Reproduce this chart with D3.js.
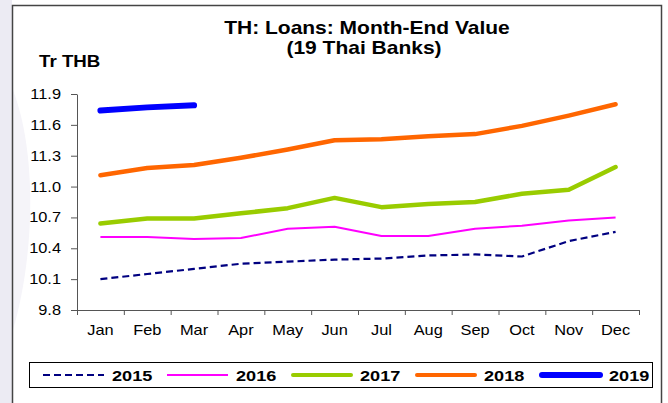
<!DOCTYPE html>
<html>
<head>
<meta charset="utf-8">
<script src="https://cdn.jsdelivr.net/npm/d3@7"></script>
<style>
  body { margin: 0; background: #fff; }
  text { font-family: Arial, "Liberation Sans", sans-serif; fill: #000; }
</style>
</head>
<body>
<div class="chart"></div>
<script>
const months = ["Jan", "Feb", "Mar", "Apr", "May", "Jun", "Jul", "Aug", "Sep", "Oct", "Nov", "Dec"];
const yTicks = [9.8, 10.1, 10.4, 10.7, 11.0, 11.3, 11.6, 11.9];

const s2015 = [10.10, 10.15, 10.20, 10.25, 10.27, 10.29, 10.30, 10.33, 10.34, 10.32, 10.47, 10.56];
const s2016 = [10.51, 10.51, 10.49, 10.50, 10.59, 10.61, 10.52, 10.52, 10.59, 10.62, 10.67, 10.70];
const s2017 = [10.64, 10.69, 10.69, 10.74, 10.79, 10.89, 10.80, 10.83, 10.85, 10.93, 10.97, 11.19];
const s2018 = [11.11, 11.18, 11.21, 11.28, 11.36, 11.45, 11.46, 11.49, 11.51, 11.59, 11.69, 11.80];
const s2019 = [11.74, 11.77, 11.79];

const series = [
  { name: "2015", values: s2015, color: "#000080", width: 2.2, dash: "7,4", cap: "butt" },
  { name: "2016", values: s2016, color: "#ff00ff", width: 2, dash: null, cap: "butt" },
  { name: "2017", values: s2017, color: "#99cc00", width: 4.5, dash: null, cap: "round" },
  { name: "2018", values: s2018, color: "#ff6600", width: 4.5, dash: null, cap: "round" },
  { name: "2019", values: s2019, color: "#0000ff", width: 6, dash: null, cap: "round" }
];

const W = 668, H = 403;
const sx = 1.17; // the original is stretched sideways a little
const plot = { left: 77, right: 639, top: 94, bottom: 310 };

const svg = d3.select(".chart").append("svg")
    .attr("width", W)
    .attr("height", H);

// left strip + faint swoosh
svg.append("rect").attr("x", 0).attr("y", 0).attr("width", 12).attr("height", H).attr("fill", "#ecebf3");
svg.append("path")
    .attr("d", "M13,90 C36,150 36,250 13,330 Z")
    .attr("fill", "#f5f4f9");

// frame
svg.append("rect")
    .attr("x", 12.5).attr("y", 5.5)
    .attr("width", 649).attr("height", 420)
    .attr("fill", "none")
    .attr("stroke", "#444")
    .attr("stroke-width", 1.5);

const x = d3.scaleBand().domain(months).range([plot.left, plot.right]);
const xEdge = d3.scaleLinear().domain([0, 12]).range([plot.left, plot.right]);
const y = d3.scaleLinear().domain([9.8, 11.9]).range([plot.bottom, plot.top]);

// y axis
const gy = svg.append("g")
    .attr("transform", `translate(${plot.left},0)`)
    .call(d3.axisLeft(y).tickValues(yTicks).tickFormat(d3.format(".1f")).tickSize(6).tickSizeOuter(0));
gy.select(".domain").attr("stroke", "#555");
gy.selectAll(".tick line").attr("stroke", "#555");
gy.selectAll(".tick text")
    .attr("x", 0)
    .attr("transform", `translate(-16,0) scale(${sx},1)`)
    .style("font-size", "14px");

// x axis: boundary ticks
const gxe = svg.append("g")
    .attr("transform", `translate(0,${plot.bottom})`)
    .call(d3.axisBottom(xEdge).ticks(12).tickFormat("").tickSize(5).tickSizeOuter(0));
gxe.select(".domain").attr("stroke", "#555");
gxe.selectAll(".tick line").attr("stroke", "#555");

// x axis: month labels
const gx = svg.append("g")
    .attr("transform", `translate(0,${plot.bottom})`)
    .call(d3.axisBottom(x).tickSize(0));
gx.select(".domain").remove();
gx.selectAll(".tick text")
    .attr("y", 0).attr("dy", 0)
    .attr("transform", `translate(0,25) scale(${sx},1)`)
    .style("font-size", "14px");

// lines
const line = d3.line()
    .x((d, i) => x(months[i]) + x.bandwidth() / 2)
    .y(d => y(d));

svg.append("g").selectAll("path")
    .data(series)
    .join("path")
    .attr("d", d => line(d.values))
    .attr("fill", "none")
    .attr("stroke", d => d.color)
    .attr("stroke-width", d => d.width)
    .attr("stroke-dasharray", d => d.dash)
    .attr("stroke-linecap", d => d.cap)
    .attr("stroke-linejoin", "round");

// title
svg.append("text")
    .attr("text-anchor", "middle")
    .attr("transform", `translate(367,33.5) scale(1.2,1)`)
    .style("font-size", "17.5px").style("font-weight", "bold")
    .text("TH: Loans: Month-End Value");
svg.append("text")
    .attr("text-anchor", "middle")
    .attr("transform", `translate(364,53.5) scale(1.2,1)`)
    .style("font-size", "17.5px").style("font-weight", "bold")
    .text("(19 Thai Banks)");

svg.append("text")
    .attr("transform", `translate(39,66.5) scale(${sx},1)`)
    .style("font-size", "16px").style("font-weight", "bold")
    .text("Tr THB");

// legend
svg.append("rect")
    .attr("x", 29.5).attr("y", 362.5)
    .attr("width", 623).attr("height", 25)
    .attr("fill", "#fff")
    .attr("stroke", "#000")
    .attr("stroke-width", 1);

const legendX = [43, 167, 291, 415, 540];
const lg = svg.append("g").selectAll("g")
    .data(series)
    .join("g")
    .attr("transform", (d, i) => `translate(${legendX[i]},375)`);
lg.append("line")
    .attr("x1", d => d.cap === "round" ? 2 : 0)
    .attr("x2", d => d.cap === "round" ? 60 : 61)
    .attr("stroke", d => d.color)
    .attr("stroke-width", d => d.name === "2019" ? 6 : (d.cap === "round" ? 4 : d.width))
    .attr("stroke-dasharray", d => d.dash)
    .attr("stroke-linecap", d => d.cap);
lg.append("text")
    .attr("transform", `translate(69,5.5) scale(${sx},1)`)
    .style("font-size", "15.5px").style("font-weight", "bold")
    .text(d => d.name);
</script>
</body>
</html>
